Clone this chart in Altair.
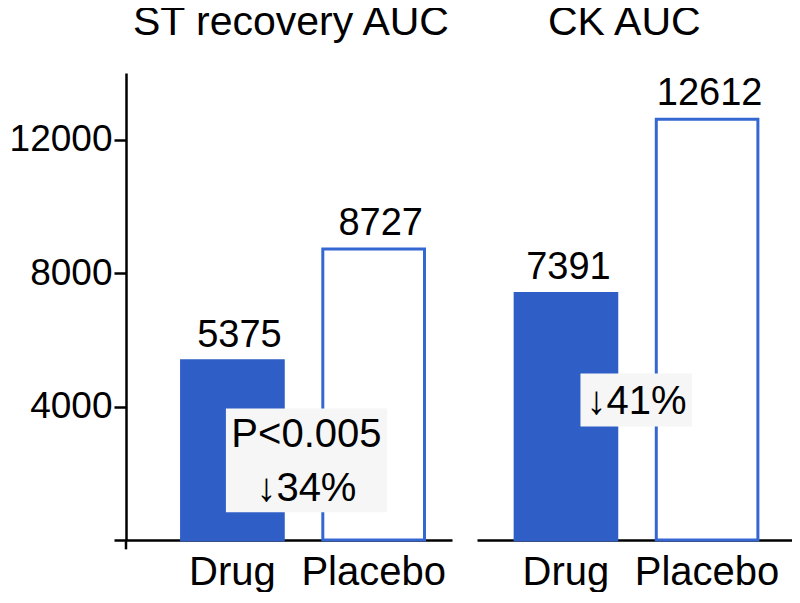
import altair as alt
import pandas as pd

# ---- data ----
groups = ["Drug", "Placebo"]
st_values = [5375, 8727]
ck_values = [7391, 12612]
panel_titles = ["ST recovery AUC", "CK AUC"]
y_ticks = [0, 4000, 8000, 12000]

# annotations (text and their placement in data units)
st_note_lines = ["P<0.005", "↓34%"]
st_note_y = 2775
st_box = [829, 3943]
ck_note_lines = ["↓41%"]
ck_note_y = 3763
ck_box = [3404, 4991]

FONT = "Liberation Sans"
BLUE = "#2F5FC6"
BLUE_LINE = "#3567D3"
Y_MAX = 14000
H = 467


def panel(values, title, width, p_outer, align, title_dx, show_y,
          label_dx, note_lines, note_y, box, box_off, note_dx):
    df = pd.DataFrame({"group": groups, "value": values})
    xscale = alt.Scale(domain=groups, paddingInner=0.28,
                       paddingOuter=p_outer, align=align)
    yscale = alt.Scale(domain=[0, Y_MAX], nice=False, zero=True)
    if show_y:
        yaxis = alt.Axis(values=y_ticks, labelExpr="datum.value == 0 ? '' : datum.label",
                         format="d", grid=False, title=None,
                         domainColor="black", domainWidth=2.5,
                         tickColor="black", tickWidth=2.5, tickSize=12,
                         labelFont=FONT, labelFontSize=37, labelColor="black",
                         labelPadding=2)
    else:
        yaxis = None
    xaxis = alt.Axis(title=None, ticks=False, labelAngle=0,
                     labelFont=FONT, labelFontSize=40, labelColor="black",
                     labelPadding=12, domainColor="black", domainWidth=2.5)

    base = alt.Chart(df)
    bars = base.mark_bar(strokeWidth=3).encode(
        x=alt.X("group:N", scale=xscale, axis=xaxis, sort=groups),
        y=alt.Y("value:Q", scale=yscale, axis=yaxis),
        fill=alt.Fill("group:N", scale=alt.Scale(domain=groups, range=[BLUE, "white"]), legend=None),
        stroke=alt.Stroke("group:N", scale=alt.Scale(domain=groups, range=[BLUE, BLUE_LINE]), legend=None),
    )
    labels = base.mark_text(font=FONT, fontSize=38, baseline="alphabetic",
                            dy=-14, dx=label_dx, color="black").encode(
        x=alt.X("group:N", sort=groups),
        y=alt.Y("value:Q"),
        text=alt.Text("value:Q", format="d"),
    )
    box_rect = alt.Chart().mark_rect(color="#F6F6F6", xOffset=box_off[0], x2Offset=box_off[1]).encode(
        x=alt.datum("Drug"), x2=alt.datum("Placebo"),
        y=alt.datum(box[0]), y2=alt.datum(box[1]),
    )
    note = alt.Chart().mark_text(font=FONT, fontSize=40, baseline="alphabetic",
                                 lineHeight=54, dx=note_dx, color="black").encode(
        x=alt.datum("Drug"), y=alt.datum(note_y),
        text=alt.value(note_lines),
    )
    layers = [bars, labels, box_rect, note]
    if show_y:
        # short extension of the y axis line below the baseline
        stub = alt.Chart().mark_rule(color="black", strokeWidth=2.5).encode(
            x=alt.value(0), y=alt.datum(0), y2=alt.datum(-280),
        )
        layers.append(stub)
    return alt.layer(*layers).properties(
        width=width, height=H,
        title=alt.TitleParams(title, font=FONT, fontSize=41, fontWeight="normal",
                              anchor="start", frame="group", dx=title_dx, offset=-3,
                              baseline="alphabetic", color="black"),
    )


left = panel(st_values, panel_titles[0], 326, 0.294, 0.669, 7, True, 7,
             st_note_lines, st_note_y, st_box, [-6.5, 13.5], 74)
right = panel(ck_values, panel_titles[1], 315, 0.256, 0.528, 71, False, 2.5,
              ck_note_lines, ck_note_y, ck_box, [14.5, -15], 70.5)

chart = alt.hconcat(left, right, spacing=25, bounds="flush").properties(
    padding={"left": 1, "top": -6, "right": 0, "bottom": 0},
    background="white",
).configure_view(strokeWidth=0, stroke=None)

chart.save("out.html", embed_options={"renderer": "svg", "actions": False})
